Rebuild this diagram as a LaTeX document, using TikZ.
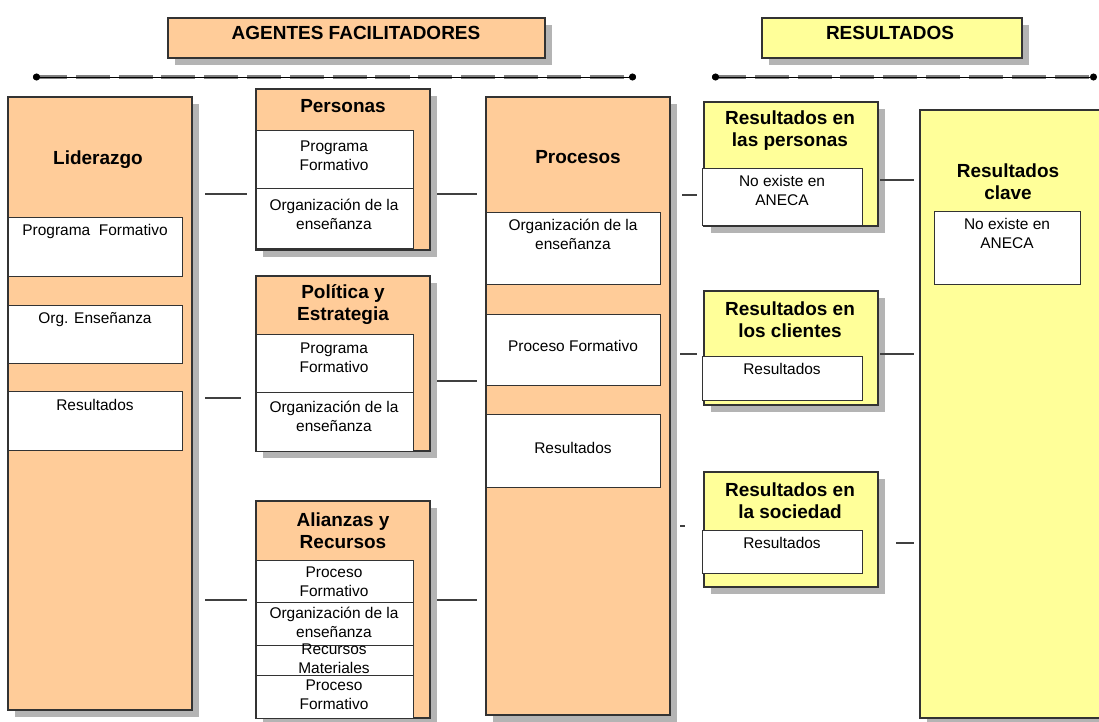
\documentclass[tikz,border=0pt]{standalone}
\usepackage{fontspec}
\setmainfont{Liberation Sans}
\usetikzlibrary{fit,shadows,arrows.meta}
\definecolor{facil}{HTML}{FFCC99}
\definecolor{resul}{HTML}{FFFF99}
\definecolor{sombra}{HTML}{B4B4B4}
\tikzset{
  caja/.style={draw=black!80, line width=0.8pt, inner sep=0pt,
    drop shadow={shadow xshift=0.18cm, shadow yshift=-0.18cm, fill=sombra, opacity=1}},
  agente/.style={caja, fill=facil},
  result/.style={caja, fill=resul},
  fila/.style={draw=black!80, line width=0.7pt, fill=white, inner sep=0pt},
  titulo/.style={font=\fontsize{13.5}{15.6}\selectfont\bfseries, align=center, inner sep=0pt},
  texto/.style={font=\fontsize{11}{13.5}\selectfont, align=center, inner sep=0pt},
  enlace/.style={line width=1.3pt, black!75},
  eje/.style={line width=0.7pt, {Circle[length=5pt]}-{Circle[length=5pt]}},
  ejedash/.style={line width=2.6pt, black!50, dash pattern=on 0.85cm off 0.22cm}
}
\begin{document}
\begin{tikzpicture}[x=0.025cm, y=-0.025cm]
\useasboundingbox (0,0) rectangle (1099,722);

% cabeceras
\node[agente, fit={(168,18) (545,58)}] (agentes) {};
\node[titulo] (agentestxt) at (356,33) {AGENTES FACILITADORES};
\node[result, fit={(762,18) (1022,58)}] (resultados) {};
\node[titulo] (resultadostxt) at (890,33) {RESULTADOS};
\coordinate (ejeA1) at (33,77);
\coordinate (ejeA2) at (636,77);
\coordinate (ejeR1) at (712,77);
\coordinate (ejeR2) at (1097,77);
\draw[ejedash] (ejeA1) -- (ejeA2);
\draw[eje] (ejeA1) -- (ejeA2);
\draw[ejedash] (ejeR1) -- (ejeR2);
\draw[eje] (ejeR1) -- (ejeR2);

% Liderazgo
\node[agente, fit={(8,97) (192,710)}] (lider) {};
\node[titulo] (lidertit) at (98,160) {Liderazgo};
\node[fila, fit={(8,217) (182,276)}] (lidprog) {};
\node[texto, anchor=north] (lidprogtxt) at (95,224) {Programa\ \ Formativo};
\node[fila, fit={(8,305) (182,363)}] (lidorg) {};
\node[texto, anchor=north] (lidorgtxt) at (95,312) {Org. Enseñanza};
\node[fila, fit={(8,391) (182,450)}] (lidres) {};
\node[texto, anchor=north] (lidrestxt) at (95,399) {Resultados};

% Personas
\node[agente, fit={(256,89) (430,250)}] (pers) {};
\node[titulo] (perstit) at (343,106) {Personas};
\node[fila, fit={(256,130) (413,188)}] (persprog) {};
\node[texto] (persprogtxt) at (334,156) {Programa\\Formativo};
\node[fila, fit={(256,188) (413,248)}] (persorg) {};
\node[texto] (persorgtxt) at (334,214) {Organización de la\\enseñanza};

% Politica y Estrategia
\node[agente, fit={(256,276) (430,451)}] (polit) {};
\node[titulo] (polittit) at (343,305) {Política y\\Estrategia};
\node[fila, fit={(256,334) (413,392)}] (politprog) {};
\node[texto] (politprogtxt) at (334,358) {Programa\\Formativo};
\node[fila, fit={(256,392) (413,451)}] (politorg) {};
\node[texto] (politorgtxt) at (334,416) {Organización de la\\enseñanza};

% Alianzas y Recursos
\node[agente, fit={(256,501) (430,718)}] (alian) {};
\node[titulo] (aliantit) at (343,531) {Alianzas y\\Recursos};
\node[fila, fit={(256,560) (413,602)}] (alianproc) {};
\node[texto] (alianproctxt) at (334,582) {Proceso\\Formativo};
\node[fila, fit={(256,602) (413,645)}] (alianorg) {};
\node[texto] (alianorgtxt) at (334,622) {Organización de la\\enseñanza};
\node[fila, fit={(256,645) (413,675)}] (alianrec) {};
\node[texto] (alianrectxt) at (334,659) {Recursos\\Materiales};
\node[fila, fit={(256,675) (413,718)}] (alianproc2) {};
\node[texto] (alianproc2txt) at (334,695) {Proceso\\Formativo};

% Procesos
\node[agente, fit={(486,97) (670,715)}] (proc) {};
\node[titulo] (proctit) at (578,157) {Procesos};
\node[fila, fit={(486,212) (660,284)}] (procorg) {};
\node[texto, anchor=north] (procorgtxt) at (573,219) {Organización de la\\enseñanza};
\node[fila, fit={(486,314) (660,385)}] (procform) {};
\node[texto] (procformtxt) at (573,346) {Proceso Formativo};
\node[fila, fit={(486,414) (660,487)}] (procres) {};
\node[texto] (procrestxt) at (573,448) {Resultados};

% Resultados
\node[result, fit={(704,102) (878,226)}] (rpers) {};
\node[titulo] (rperstit) at (790,131) {Resultados en\\las personas};
\node[fila, fit={(702,168) (862,225)}] (rpersbox) {};
\node[texto, anchor=north] (rperstxt) at (782,175) {No existe en\\ANECA};

\node[result, fit={(704,291) (878,405)}] (rcli) {};
\node[titulo] (rclitit) at (790,320) {Resultados en\\los clientes};
\node[fila, fit={(702,356) (862,400)}] (rclibox) {};
\node[texto, anchor=north] (rclitxt) at (782,363) {Resultados};

\node[result, fit={(704,472) (878,587)}] (rsoc) {};
\node[titulo] (rsoctit) at (790,501) {Resultados en\\la sociedad};
\node[fila, fit={(702,530) (862,573)}] (rsocbox) {};
\node[texto, anchor=north] (rsoctxt) at (782,537) {Resultados};

\node[result, fit={(920,110) (1110,718)}] (rclave) {};
\node[titulo] (rclavetit) at (1008,182) {Resultados\\clave};
\node[fila, fit={(934,211) (1080,284)}] (rclavebox) {};
\node[texto, anchor=north] (rclavetxt) at (1007,218) {No existe en\\ANECA};

% enlaces
\coordinate (l1a) at (205,194);  \coordinate (l1b) at (247,194);
\coordinate (l2a) at (205,398);  \coordinate (l2b) at (241,398);
\coordinate (l3a) at (205,600);  \coordinate (l3b) at (247,600);
\coordinate (p1a) at (437,194);  \coordinate (p1b) at (477,194);
\coordinate (p2a) at (437,381);  \coordinate (p2b) at (477,381);
\coordinate (p3a) at (437,600);  \coordinate (p3b) at (477,600);
\coordinate (q1a) at (682,195);  \coordinate (q1b) at (697,195);
\coordinate (q2a) at (680,354);  \coordinate (q2b) at (697,354);
\coordinate (q3a) at (680,526);  \coordinate (q3b) at (685,526);
\coordinate (r1a) at (880,180);  \coordinate (r1b) at (914,180);
\coordinate (r2a) at (880,354);  \coordinate (r2b) at (914,354);
\coordinate (r3a) at (896,543);  \coordinate (r3b) at (914,543);
\draw[enlace] (l1a) -- (l1b);
\draw[enlace] (l2a) -- (l2b);
\draw[enlace] (l3a) -- (l3b);
\draw[enlace] (p1a) -- (p1b);
\draw[enlace] (p2a) -- (p2b);
\draw[enlace] (p3a) -- (p3b);
\draw[enlace] (q1a) -- (q1b);
\draw[enlace] (q2a) -- (q2b);
\draw[enlace] (q3a) -- (q3b);
\draw[enlace] (r1a) -- (r1b);
\draw[enlace] (r2a) -- (r2b);
\draw[enlace] (r3a) -- (r3b);
\end{tikzpicture}
\end{document}
